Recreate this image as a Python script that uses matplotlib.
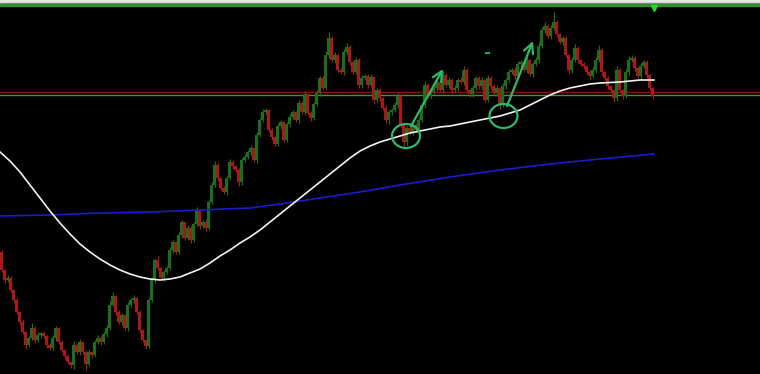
import matplotlib.pyplot as plt
import numpy as np
from matplotlib.patches import Ellipse

# price is kept in screen units (0 = top of the window), so the y axis is inverted
first_open = 252
closes = [
    270, 280, 278, 290, 300, 312, 322, 332, 345, 338,
    328, 340, 335, 333, 336, 345, 348, 338, 328, 342,
    350, 356, 362, 365, 345, 352, 342, 352, 364, 352,
    355, 342, 338, 342, 334, 328, 305, 296, 312, 322,
    315, 328, 305, 300, 298, 312, 330, 340, 346, 300,
    280, 260, 268, 278, 272, 268, 250, 242, 252, 235,
    222, 238, 228, 240, 224, 210, 226, 222, 228, 202,
    185, 165, 178, 188, 192, 178, 162, 166, 170, 182,
    160, 157, 152, 148, 160, 135, 120, 112, 110, 130,
    137, 144, 126, 122, 140, 124, 117, 112, 120, 103,
    112, 94, 113, 118, 104, 93, 78, 88, 55, 38,
    60, 55, 70, 72, 52, 47, 62, 72, 60, 85,
    78, 76, 85, 77, 100, 90, 98, 108, 120, 112,
    110, 105, 96, 125, 142, 128, 132, 125, 130, 120,
    105, 85, 96, 92, 88, 82, 90, 75, 85, 80,
    90, 88, 80, 82, 70, 90, 94, 88, 78, 86,
    80, 100, 78, 86, 93, 88, 105, 86, 80, 72,
    70, 76, 64, 62, 70, 60, 74, 64, 60, 46,
    30, 26, 36, 28, 22, 34, 42, 38, 55, 70,
    60, 48, 60, 64, 66, 72, 76, 70, 60, 50,
    72, 78, 86, 90, 98, 70, 90, 96, 72, 60,
    58, 68, 76, 66, 62, 75, 88, 96,
]
wick_up = [
    2, 1, 3, 2, 1, 2, 1, 3, 1, 2,
    5, 2, 3, 1, 2, 1, 2, 3, 2, 1,
    2, 1, 2, 1, 4, 2, 3, 1, 2, 3,
    1, 2, 3, 2, 2, 3, 4, 4, 1, 2,
    2, 1, 3, 2, 3, 1, 2, 1, 1, 2,
    3, 2, 4, 1, 2, 2, 3, 2, 1, 3,
    2, 1, 3, 2, 2, 3, 1, 2, 3, 2,
    3, 4, 2, 1, 2, 2, 3, 2, 1, 2,
    2, 3, 2, 3, 1, 3, 2, 3, 2, 1,
    2, 1, 3, 2, 1, 2, 3, 2, 1, 3,
    2, 3, 1, 2, 2, 3, 2, 2, 4, 6,
    2, 3, 1, 2, 3, 4, 2, 1, 3, 2,
    3, 2, 2, 3, 1, 2, 2, 1, 3, 2,
    2, 3, 4, 2, 1, 2, 3, 2, 2, 3,
    3, 4, 2, 3, 2, 3, 2, 4, 2, 3,
    2, 3, 2, 3, 4, 2, 1, 3, 2, 2,
    3, 1, 3, 2, 2, 3, 1, 3, 2, 3,
    2, 3, 3, 2, 2, 3, 1, 2, 3, 4,
    3, 4, 2, 3, 10, 2, 1, 2, 2, 1,
    3, 4, 2, 1, 2, 1, 2, 3, 3, 5,
    2, 1, 2, 1, 1, 4, 2, 1, 3, 4,
    3, 2, 1, 3, 2, 2, 1, 1,
]
wick_dn = [
    2, 3, 2, 2, 3, 2, 3, 2, 4, 2,
    2, 3, 2, 3, 2, 3, 2, 2, 3, 2,
    2, 3, 2, 3, 4, 2, 3, 2, 6, 2,
    3, 2, 2, 3, 2, 3, 2, 1, 3, 2,
    3, 2, 3, 2, 3, 2, 3, 2, 3, 2,
    2, 3, 2, 2, 3, 2, 2, 3, 2, 2,
    3, 2, 2, 3, 2, 2, 3, 2, 3, 2,
    2, 2, 3, 2, 2, 3, 2, 3, 2, 4,
    3, 2, 2, 3, 2, 3, 2, 2, 3, 2,
    3, 2, 2, 3, 2, 2, 3, 2, 2, 3,
    2, 3, 2, 3, 2, 2, 3, 2, 2, 3,
    2, 3, 2, 2, 3, 2, 3, 2, 2, 3,
    3, 2, 3, 2, 3, 2, 3, 2, 3, 4,
    3, 2, 3, 2, 4, 3, 2, 3, 2, 3,
    2, 3, 2, 3, 2, 3, 2, 3, 2, 3,
    3, 2, 3, 2, 3, 2, 3, 3, 2, 3,
    3, 2, 2, 3, 2, 3, 4, 2, 3, 2,
    2, 3, 2, 3, 2, 3, 2, 3, 2, 3,
    2, 3, 2, 3, 2, 3, 2, 3, 2, 3,
    3, 2, 3, 2, 3, 2, 3, 2, 3, 2,
    3, 2, 3, 2, 4, 3, 2, 3, 2, 3,
    2, 3, 2, 3, 2, 3, 2, 3,
]

ma_fast_x = [0, 10, 20, 30, 40, 50, 60, 70, 80, 90, 100, 110, 120, 130, 140, 150, 160,
             170, 180, 190, 200, 210, 220, 230, 240, 250, 260, 270, 280, 290, 300, 310,
             320, 330, 340, 350, 360, 370, 380, 390, 400, 410, 420, 430, 440, 450, 460,
             470, 480, 490, 500, 510, 520, 530, 540, 550, 560, 570, 580, 590, 600, 620,
             640, 654]
ma_fast_y = [152, 161, 172, 185, 198, 211, 223, 234, 244, 252, 259, 265, 270, 274, 277, 279, 280,
             279, 277, 273, 269, 263, 256, 250, 243, 237, 230, 222, 214, 206, 198, 190,
             182, 174, 166, 158, 151, 146, 142, 139, 136, 133, 131, 129, 127, 126, 124,
             122, 120, 118, 116, 113, 110, 105, 100, 95, 91, 88, 86, 84, 83, 82,
             80, 80]
ma_slow_x = [0, 50, 100, 150, 200, 250, 280, 300, 320, 360, 400, 450, 500, 550, 600, 654]
ma_slow_y = [216, 215, 213, 212, 210, 208, 204, 201, 198, 192, 185, 177, 170, 164, 159, 154]

level_red = 91.5
level_green = 94.5

# hand-drawn markup
circles = [(406, 136), (503.5, 116)]
arrows = [((411, 126), (443, 69)), ((507, 106), (533, 41))]

fig = plt.figure(figsize=(7.6, 3.74), dpi=100)
fig.patch.set_facecolor('black')
ax = fig.add_axes([0, 0, 1, 1])
ax.set_facecolor('black')
ax.set_xlim(0, 760)
ax.set_ylim(374, 0)
ax.axis('off')

# window top: grey strip and green border
ax.axhspan(0, 3.3, color='#e6e6e6', zorder=1)
ax.axhspan(3.3, 4.3, color='#8a8a8a', zorder=1)
ax.axhspan(4.3, 5.7, color='#2f8f2f', zorder=1)

ax.axhline(level_red, color='#8b1010', lw=1.0, zorder=2)
ax.axhline(level_green, color='#2ea02e', lw=1.0, zorder=2)

closes = np.array(closes, dtype=float)
opens = np.concatenate([[first_open], closes[:-1]])
xs = 1.5 + 3 * np.arange(len(closes))
tops = np.minimum(opens, closes)
bots = np.maximum(opens, closes)
highs = tops - np.array(wick_up)
lows = bots + np.array(wick_dn)
up = closes < opens
colors = np.where(up, '#1c6e1c', '#a81a1a')

ax.vlines(xs, highs, lows, colors=colors, lw=0.9, zorder=3)
ax.bar(xs, np.maximum(bots - tops, 1), bottom=tops, width=2.3, color=colors,
       linewidth=0, zorder=3)

ax.plot(ma_slow_x, ma_slow_y, color='#1c1ccc', lw=1.2, zorder=4)
ax.plot(ma_fast_x, ma_fast_y, color='#f2f2f2', lw=1.2, zorder=4)

# small markers
ax.plot([654], [7.5], marker='v', color='#22dd22', markersize=5, zorder=5)
ax.plot([485.5, 488.5], [52.5, 52.5], color='#22aa44', lw=1.5, zorder=5)

markup = '#2db86a'
for cx, cy in circles:
    ax.add_patch(Ellipse((cx, cy), 28, 24, fill=False, edgecolor=markup, lw=1.6, zorder=6))
for start, tip in arrows:
    ax.annotate('', xy=tip, xytext=start,
                arrowprops=dict(arrowstyle='->,head_length=0.7,head_width=0.35',
                                color=markup, lw=1.6, shrinkA=0, shrinkB=0), zorder=6)

fig.savefig('out.png', dpi=100, facecolor='black')
